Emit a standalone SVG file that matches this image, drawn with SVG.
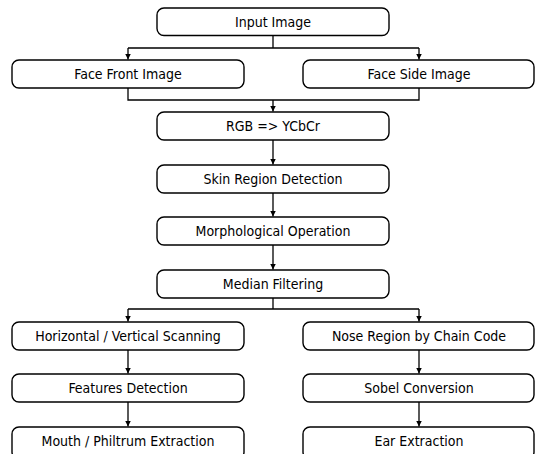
<svg xmlns="http://www.w3.org/2000/svg" width="536" height="454" viewBox="0 0 536 454">
  <style>
    .box { fill: #ffffff; stroke: #000000; stroke-width: 1.4; }
    .lbl { font-family: "DejaVu Sans Condensed", "DejaVu Sans", "Liberation Sans", sans-serif; font-stretch: condensed; font-size: 14px; fill: #000000; text-anchor: middle; dominant-baseline: central; }
    .con { fill: none; stroke: #000000; stroke-width: 1.3; }
  </style>
  <defs>
    <marker id="arr" markerUnits="userSpaceOnUse" markerWidth="7" markerHeight="7" refX="6" refY="3" orient="auto">
      <path d="M0,0 L6,3 L0,6 z" fill="#000000"/>
    </marker>
  </defs>
  <rect x="0" y="0" width="536" height="454" fill="#ffffff"/>

  <g id="connectors">
    <path class="con" d="M273,35.5 V48 M128,48 H419"/>
    <path class="con" d="M128,48 V59.5" marker-end="url(#arr)"/>
    <path class="con" d="M419,48 V59.5" marker-end="url(#arr)"/>
    <path class="con" d="M128,88 V100 H419 V88"/>
    <path class="con" d="M273,100 V111.5" marker-end="url(#arr)"/>
    <path class="con" d="M273,140 V164.5" marker-end="url(#arr)"/>
    <path class="con" d="M273,193 V216.5" marker-end="url(#arr)"/>
    <path class="con" d="M273,245 V269.5" marker-end="url(#arr)"/>
    <path class="con" d="M273,298 V309 M128,309 H419"/>
    <path class="con" d="M128,309 V321.5" marker-end="url(#arr)"/>
    <path class="con" d="M419,309 V321.5" marker-end="url(#arr)"/>
    <path class="con" d="M128,350 V373.5" marker-end="url(#arr)"/>
    <path class="con" d="M128,402 V426.5" marker-end="url(#arr)"/>
    <path class="con" d="M419,350 V373.5" marker-end="url(#arr)"/>
    <path class="con" d="M419,402 V426.5" marker-end="url(#arr)"/>
  </g>

  <g id="input-image">
    <rect class="box" x="157" y="8" width="232" height="27.5" rx="7"/>
    <text class="lbl" x="273" y="21.5">Input Image</text>
  </g>
  <g id="face-front-image">
    <rect class="box" x="12" y="60" width="232" height="28" rx="7"/>
    <text class="lbl" x="128" y="74">Face Front Image</text>
  </g>
  <g id="face-side-image">
    <rect class="box" x="303" y="60" width="231" height="28" rx="7"/>
    <text class="lbl" x="419" y="74">Face Side Image</text>
  </g>
  <g id="rgb-ycbcr">
    <rect class="box" x="157" y="112" width="232" height="28" rx="7"/>
    <text class="lbl" x="273" y="126">RGB =&gt; YCbCr</text>
  </g>
  <g id="skin-region-detection">
    <rect class="box" x="157" y="165" width="232" height="28" rx="7"/>
    <text class="lbl" x="273" y="179">Skin Region Detection</text>
  </g>
  <g id="morphological-operation">
    <rect class="box" x="157" y="217" width="232" height="28" rx="7"/>
    <text class="lbl" x="273" y="231">Morphological Operation</text>
  </g>
  <g id="median-filtering">
    <rect class="box" x="157" y="270" width="232" height="28" rx="7"/>
    <text class="lbl" x="273" y="284">Median Filtering</text>
  </g>
  <g id="horizontal-vertical-scanning">
    <rect class="box" x="12" y="322" width="232" height="28" rx="7"/>
    <text class="lbl" x="128" y="336">Horizontal / Vertical Scanning</text>
  </g>
  <g id="features-detection">
    <rect class="box" x="12" y="374" width="232" height="28" rx="7"/>
    <text class="lbl" x="128" y="388">Features Detection</text>
  </g>
  <g id="mouth-philtrum-extraction">
    <rect class="box" x="12" y="427" width="232" height="32" rx="7"/>
    <text class="lbl" x="128" y="441">Mouth / Philtrum Extraction</text>
  </g>
  <g id="nose-region-chain-code">
    <rect class="box" x="303" y="322" width="231" height="28" rx="7"/>
    <text class="lbl" x="419" y="336">Nose Region by Chain Code</text>
  </g>
  <g id="sobel-conversion">
    <rect class="box" x="303" y="374" width="231" height="28" rx="7"/>
    <text class="lbl" x="419" y="388">Sobel Conversion</text>
  </g>
  <g id="ear-extraction">
    <rect class="box" x="303" y="427" width="231" height="32" rx="7"/>
    <text class="lbl" x="419" y="441">Ear Extraction</text>
  </g>
</svg>
